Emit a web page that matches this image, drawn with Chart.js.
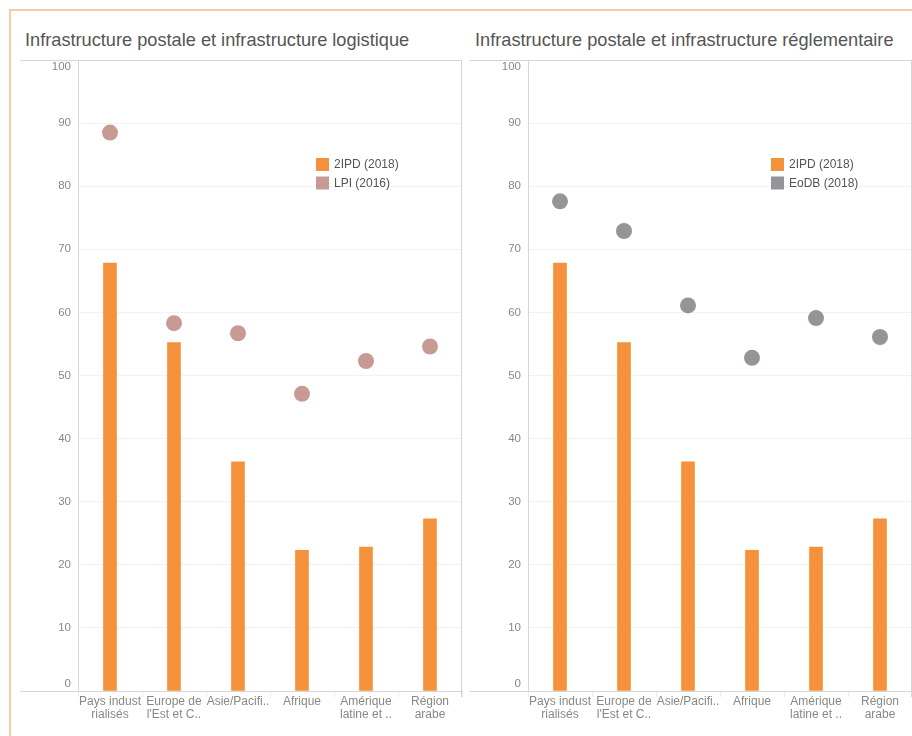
<!DOCTYPE html>
<html>
<head>
<meta charset="utf-8">
<script src="https://cdn.jsdelivr.net/npm/chart.js@4.4.1/dist/chart.umd.min.js"></script>
<style>
  body { margin: 0; width: 912px; height: 736px; overflow: hidden; background: #fff; position: relative;
         font-family: "Liberation Sans", Arial, sans-serif; }
  .frame { position: absolute; left: 9px; top: 9px; width: 920px; height: 760px;
           border-left: 2px solid #fbcaa4; border-top: 2px solid #fbcaa4; }
  .title { position: absolute; top: 30px; font-size: 18.2px; color: #555; white-space: nowrap; }
  .box { position: absolute; top: 50px; height: 686px; }
</style>
</head>
<body>
<div class="frame"></div>
<div class="title" style="left:25px">Infrastructure postale et infrastructure logistique</div>
<div class="title" style="left:475px">Infrastructure postale et infrastructure réglementaire</div>
<div class="box" style="left:20px;width:444px"><canvas id="logistique"></canvas></div>
<div class="box" style="left:470px;width:442px"><canvas id="reglementaire"></canvas></div>

<script>
const regions = [
    ['Pays indust', 'rialisés'],
    ['Europe de', "l'Est et C.."],
    'Asie/Pacifi..',
    'Afrique',
    ['Amérique', 'latine et ..'],
    ['Région', 'arabe']
];
const ipd2018 = [67.8, 55.2, 36.3, 22.3, 22.8, 27.3];
const lpi2016 = [88.5, 58.3, 56.7, 47.1, 52.3, 54.6];
const eodb2018 = [77.6, 72.9, 61.1, 52.8, 59.1, 56.1];
const yTicks = [0, 10, 20, 30, 40, 50, 60, 70, 80, 90, 100];

const FONT = '"Liberation Sans", Arial, sans-serif';
const ORANGE = '#f4913b';

// y labels, the first and last are pushed inside the frame
const yLabels = {
    id: 'yLabels',
    afterDraw(chart) {
        const { ctx, chartArea: a, scales: { y } } = chart;
        ctx.save();
        ctx.font = '11.5px ' + FONT;
        ctx.fillStyle = '#888';
        ctx.textAlign = 'right';
        ctx.textBaseline = 'middle';
        yTicks.forEach(v => {
            let py = y.getPixelForValue(v);
            py = Math.min(Math.max(py, a.top + 7), a.bottom - 7);
            ctx.fillText(String(v), a.left - 7, py);
        });
        ctx.restore();
    }
};

const frame = {
    id: 'frame',
    afterDraw(chart) {
        const { ctx, chartArea: a } = chart;
        ctx.save();
        ctx.strokeStyle = '#d6d6d6';
        ctx.lineWidth = 1;
        ctx.beginPath();
        ctx.moveTo(0, a.top + 0.5);
        ctx.lineTo(a.right, a.top + 0.5);
        ctx.moveTo(0, a.bottom + 0.5);
        ctx.lineTo(a.left, a.bottom + 0.5);
        ctx.moveTo(a.right - 0.5, a.top);
        ctx.lineTo(a.right - 0.5, a.bottom + 6);
        ctx.stroke();
        ctx.restore();
    }
};

const boxLegend = {
    id: 'boxLegend',
    afterDraw(chart, args, opts) {
        const { ctx, chartArea: a } = chart;
        ctx.save();
        ctx.font = '12px ' + FONT;
        ctx.textBaseline = 'middle';
        chart.data.datasets.forEach((ds, i) => {
            const x = a.left + opts.x;
            const y = a.top + opts.y + i * 18.5;
            ctx.fillStyle = ds.backgroundColor;
            ctx.fillRect(x, y, 13, 13);
            ctx.fillStyle = '#555';
            ctx.fillText(ds.label, x + 18, y + 7);
        });
        ctx.restore();
    }
};

const makeChart = (id, dotLabel, dotValues, dotColor, legendX, padRight) => {
    new Chart(document.getElementById(id), {
        type: 'bar',
        data: {
            labels: regions,
            datasets: [{
                label: '2IPD (2018)',
                data: ipd2018,
                backgroundColor: ORANGE,
                barThickness: 13,
                order: 1
            }, {
                type: 'line',
                label: dotLabel,
                data: dotValues,
                showLine: false,
                backgroundColor: dotColor,
                borderColor: dotColor,
                pointRadius: 8,
                pointBorderWidth: 0,
                order: 0
            }]
        },
        options: {
            responsive: true,
            maintainAspectRatio: false,
            animation: false,
            layout: { autoPadding: false, padding: { left: 58, top: 10, right: padRight, bottom: 0 } },
            plugins: {
                legend: { display: false },
                tooltip: { enabled: false },
                boxLegend: { x: legendX, y: 98 }
            },
            scales: {
                x: {
                    offset: true,
                    grid: { offset: true, drawOnChartArea: false, drawTicks: true, tickLength: 6, color: '#ececec' },
                    border: { color: '#d6d6d6' },
                    ticks: {
                        color: '#888',
                        font: { size: 12, family: FONT, lineHeight: 1.12 },
                        padding: -2,
                        maxRotation: 0,
                        autoSkip: false
                    },
                    afterFit(scale) {
                        scale.height = 45;
                        scale.paddingLeft = 0;
                        scale.paddingRight = 0;
                    }
                },
                y: {
                    min: 0,
                    max: 100,
                    ticks: { stepSize: 10, display: false },
                    grid: { color: '#f2f2f2', drawTicks: false },
                    border: { color: '#d6d6d6' },
                    afterFit(scale) { scale.width = 0; }
                }
            }
        },
        plugins: [frame, yLabels, boxLegend]
    });
};

makeChart('logistique', 'LPI (2016)', lpi2016, '#c79a93', 238, 2);
makeChart('reglementaire', 'EoDB (2018)', eodb2018, '#939598', 243, 0);
</script>
</body>
</html>
